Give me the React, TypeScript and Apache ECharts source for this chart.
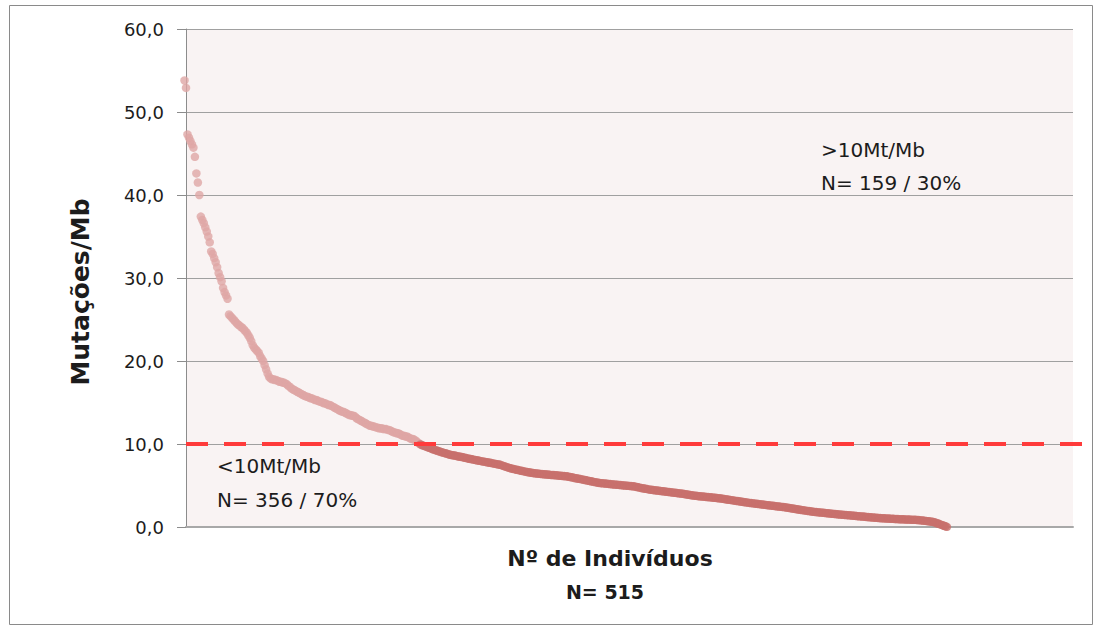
import React, { useEffect, useRef } from "react";
import * as echarts from "echarts";

const yMin = 0;
const yMax = 60;
const yStep = 10;
const threshold = 10;

// Mutations/Mb sorted descending, individuals above 10 Mt/Mb (N = 159)
const above10 = [
  53.8, 52.9, 47.3, 46.9, 46.5, 46.1, 45.7, 44.6, 42.6, 41.5,
  40.0, 37.4, 37.0, 36.6, 36.1, 35.6, 35.0, 34.3, 33.2, 32.9,
  32.4, 31.9, 31.3, 30.6, 30.1, 29.6, 28.8, 28.3, 27.9, 27.5,
  25.6, 25.4, 25.2, 25.0, 24.8, 24.6, 24.4, 24.3, 24.1, 24.0,
  23.8, 23.6, 23.4, 23.1, 22.8, 22.4, 21.9, 21.6, 21.4, 21.2,
  21.0, 20.6, 20.3, 20.0, 19.5, 19.0, 18.5, 18.1, 17.9, 17.8,
  17.8, 17.7, 17.7, 17.6, 17.5, 17.5, 17.4, 17.4, 17.3, 17.2,
  17.0, 16.9, 16.7, 16.6, 16.5, 16.4, 16.3, 16.2, 16.1, 16.0,
  15.9, 15.8, 15.7, 15.7, 15.6, 15.5, 15.5, 15.4, 15.3, 15.3,
  15.2, 15.1, 15.1, 15.0, 14.9, 14.9, 14.8, 14.7, 14.7, 14.6,
  14.5, 14.4, 14.3, 14.2, 14.1, 14.0, 13.9, 13.9, 13.8, 13.7,
  13.6, 13.5, 13.5, 13.4, 13.4, 13.3, 13.1, 13.0, 12.9, 12.8,
  12.7, 12.6, 12.5, 12.4, 12.3, 12.2, 12.2, 12.1, 12.1, 12.0,
  12.0, 11.9, 11.9, 11.9, 11.8, 11.8, 11.8, 11.7, 11.7, 11.6,
  11.5, 11.4, 11.4, 11.3, 11.3, 11.2, 11.1, 11.0, 11.0, 10.9,
  10.9, 10.8, 10.7, 10.6, 10.6, 10.5, 10.4, 10.2, 10.1,
];

// individuals below 10 Mt/Mb (N = 356)
const below10 = [
  9.95, 9.88, 9.80, 9.74, 9.68, 9.61, 9.55, 9.47, 9.40, 9.33,
  9.28, 9.22, 9.15, 9.10, 9.04, 8.98, 8.93, 8.88, 8.82, 8.77, 8.71,
  8.68, 8.64, 8.61, 8.57, 8.53, 8.50, 8.46, 8.42, 8.39, 8.35, 8.30,
  8.26, 8.22, 8.19, 8.15, 8.11, 8.08, 8.04, 8.00, 7.97, 7.93, 7.90,
  7.87, 7.84, 7.80, 7.77, 7.74, 7.70, 7.66, 7.63, 7.60, 7.56, 7.53, 7.49,
  7.42, 7.36, 7.30, 7.24, 7.18, 7.12, 7.07, 7.02, 6.98, 6.94, 6.90,
  6.86, 6.82, 6.78, 6.74, 6.70, 6.67, 6.63, 6.60, 6.57, 6.53, 6.50,
  6.48, 6.46, 6.44, 6.42, 6.40, 6.38, 6.36, 6.35, 6.33, 6.32, 6.30,
  6.28, 6.27, 6.25, 6.24, 6.22, 6.20, 6.18, 6.17, 6.15, 6.13, 6.12, 6.10,
  6.06, 6.02, 5.98, 5.95, 5.91, 5.87, 5.83, 5.80, 5.77, 5.73, 5.70,
  5.66, 5.62, 5.58, 5.55, 5.51, 5.47, 5.43, 5.40, 5.37, 5.33, 5.30,
  5.28, 5.26, 5.25, 5.23, 5.21, 5.19, 5.17, 5.15, 5.13, 5.12, 5.10,
  5.08, 5.07, 5.05, 5.03, 5.01, 5.00, 4.98, 4.96, 4.95, 4.93, 4.91, 4.90,
  4.86, 4.82, 4.78, 4.74, 4.70, 4.67, 4.63, 4.60, 4.57, 4.53, 4.50,
  4.48, 4.46, 4.43, 4.41, 4.39, 4.37, 4.34, 4.32, 4.30, 4.28, 4.25,
  4.23, 4.21, 4.19, 4.16, 4.14, 4.12, 4.10, 4.07, 4.05, 4.03, 4.00,
  3.97, 3.94, 3.91, 3.88, 3.85, 3.83, 3.80, 3.78, 3.75,
  3.73, 3.71, 3.69, 3.68, 3.66, 3.64, 3.62, 3.60, 3.58, 3.57, 3.55, 3.53, 3.52, 3.50,
  3.47, 3.45, 3.42, 3.39, 3.36, 3.34, 3.31, 3.28, 3.26, 3.23, 3.20,
  3.17, 3.14, 3.12, 3.09, 3.06, 3.03, 3.01, 2.98, 2.96, 2.93, 2.90,
  2.88, 2.86, 2.84, 2.81, 2.79, 2.77, 2.75, 2.72, 2.70, 2.68, 2.66, 2.63,
  2.61, 2.59, 2.57, 2.55, 2.53, 2.50, 2.48, 2.46, 2.44, 2.42, 2.40,
  2.37, 2.34, 2.31, 2.28, 2.26, 2.23, 2.20, 2.17, 2.14, 2.11, 2.08,
  2.05, 2.03, 2.00, 1.97, 1.94, 1.92, 1.89, 1.86, 1.84, 1.82, 1.80,
  1.78, 1.76, 1.75, 1.73, 1.71, 1.69, 1.67, 1.65, 1.63, 1.61, 1.60, 1.58,
  1.56, 1.54, 1.52, 1.50, 1.49, 1.47, 1.46, 1.44, 1.43, 1.41, 1.40,
  1.38, 1.36, 1.35, 1.33, 1.31, 1.30, 1.28, 1.26, 1.25, 1.23, 1.21,
  1.20, 1.18, 1.16, 1.15, 1.13, 1.12, 1.10, 1.09, 1.08, 1.06, 1.05,
  1.04, 1.03, 1.02, 1.01, 1.00, 0.99, 0.98, 0.97, 0.96, 0.95, 0.94, 0.93,
  0.92, 0.92, 0.91, 0.90, 0.89, 0.89, 0.88, 0.87, 0.86, 0.86, 0.85,
  0.83, 0.81, 0.79, 0.77, 0.75, 0.73, 0.70, 0.68, 0.66, 0.63, 0.60,
  0.55, 0.48, 0.42, 0.35, 0.28, 0.22, 0.15, 0.08, 0.02,
];

const yTitle = "Mutações/Mb";
const xTitle = "Nº de Indivíduos";
const xSubtitle = "N= 515";
const highLabel = [">10Mt/Mb", "N= 159 / 30%"];
const lowLabel = ["<10Mt/Mb", "N= 356 / 70%"];

const FONT = '"DejaVu Sans", sans-serif';
const TEXT = "#1c1c1c";

export default function App() {
  const ref = useRef<HTMLDivElement>(null);

  useEffect(() => {
    if (!ref.current) return;
    const chart = echarts.init(ref.current, null, { renderer: "svg" });

    const aboveData = above10.map((v, i) => [i + 1, v]);
    const belowData = below10.map((v, i) => [above10.length + i + 1, v]);

    const option: any = {
      animation: false,
      backgroundColor: "#ffffff",
      grid: [
        {
          left: 186,
          top: 29,
          right: 25,
          bottom: 99,
          show: true,
          backgroundColor: "#f9f3f3",
          borderWidth: 0,
        },
        { left: 186, top: 29, right: 8, bottom: 99 },
      ],
      xAxis: [
        {
          type: "value",
          gridIndex: 0,
          min: 2,
          max: 600,
          axisLine: {
            show: true,
            onZero: false,
            lineStyle: { color: "#a8a8a8", width: 2 },
          },
          axisTick: { show: false },
          axisLabel: { show: false },
          splitLine: { show: false },
        },
        { type: "value", gridIndex: 1, min: 0, max: 1, show: false },
      ],
      yAxis: [
        {
          type: "value",
          gridIndex: 0,
          min: yMin,
          max: yMax,
          interval: yStep,
          axisLine: { show: true, lineStyle: { color: "#8c8c8c", width: 1 } },
          axisTick: { show: true, length: 9, lineStyle: { color: "#8c8c8c" } },
          axisLabel: {
            margin: 22,
            fontFamily: FONT,
            fontSize: 18,
            color: TEXT,
            formatter: (v: number) => v.toFixed(1).replace(".", ","),
          },
          splitLine: { show: true, lineStyle: { color: "#a0a0a0", width: 1 } },
        },
        { type: "value", gridIndex: 1, min: yMin, max: yMax, show: false },
      ],
      series: [
        {
          name: ">10",
          type: "scatter",
          xAxisIndex: 0,
          yAxisIndex: 0,
          clip: false,
          symbol: "circle",
          symbolSize: 8.5,
          itemStyle: { color: "#dfa6a5" },
          data: aboveData,
          z: 3,
        },
        {
          name: "<10",
          type: "scatter",
          xAxisIndex: 0,
          yAxisIndex: 0,
          clip: false,
          symbol: "circle",
          symbolSize: 8.5,
          itemStyle: { color: "#c8706d" },
          data: belowData,
          z: 3,
        },
        {
          name: "threshold",
          type: "line",
          xAxisIndex: 1,
          yAxisIndex: 1,
          symbol: "none",
          lineStyle: { color: "#ff3b3b", width: 4, type: [22, 16] },
          data: [
            [0, threshold],
            [1, threshold],
          ],
          z: 5,
        },
      ],
      graphic: [
        {
          type: "rect",
          shape: { x: 9.5, y: 5.5, width: 1083, height: 619 },
          style: { fill: "none", stroke: "#8a8a8a", lineWidth: 1 },
          z: 100,
        },
        {
          type: "text",
          x: 80,
          y: 292,
          rotation: Math.PI / 2,
          style: {
            text: yTitle,
            font: `bold 25px ${FONT}`,
            fill: TEXT,
            align: "center",
            verticalAlign: "middle",
          },
        },
        {
          type: "text",
          x: 610,
          y: 558,
          style: {
            text: xTitle,
            font: `bold 22px ${FONT}`,
            fill: TEXT,
            align: "center",
            verticalAlign: "middle",
          },
        },
        {
          type: "text",
          x: 605,
          y: 592,
          style: {
            text: xSubtitle,
            font: `bold 19px ${FONT}`,
            fill: TEXT,
            align: "center",
            verticalAlign: "middle",
          },
        },
        {
          type: "text",
          x: 821,
          y: 150,
          style: { text: highLabel[0], font: `20px ${FONT}`, fill: TEXT, align: "left", verticalAlign: "middle" },
        },
        {
          type: "text",
          x: 821,
          y: 183,
          style: { text: highLabel[1], font: `20px ${FONT}`, fill: TEXT, align: "left", verticalAlign: "middle" },
        },
        {
          type: "text",
          x: 217,
          y: 466,
          style: { text: lowLabel[0], font: `20px ${FONT}`, fill: TEXT, align: "left", verticalAlign: "middle" },
        },
        {
          type: "text",
          x: 217,
          y: 500,
          style: { text: lowLabel[1], font: `20px ${FONT}`, fill: TEXT, align: "left", verticalAlign: "middle" },
        },
      ],
    };

    chart.setOption(option);
    return () => chart.dispose();
  }, []);

  return (
    <div
      ref={ref}
      style={{ position: "absolute", left: 0, top: 0, width: 1098, height: 626 }}
    />
  );
}
